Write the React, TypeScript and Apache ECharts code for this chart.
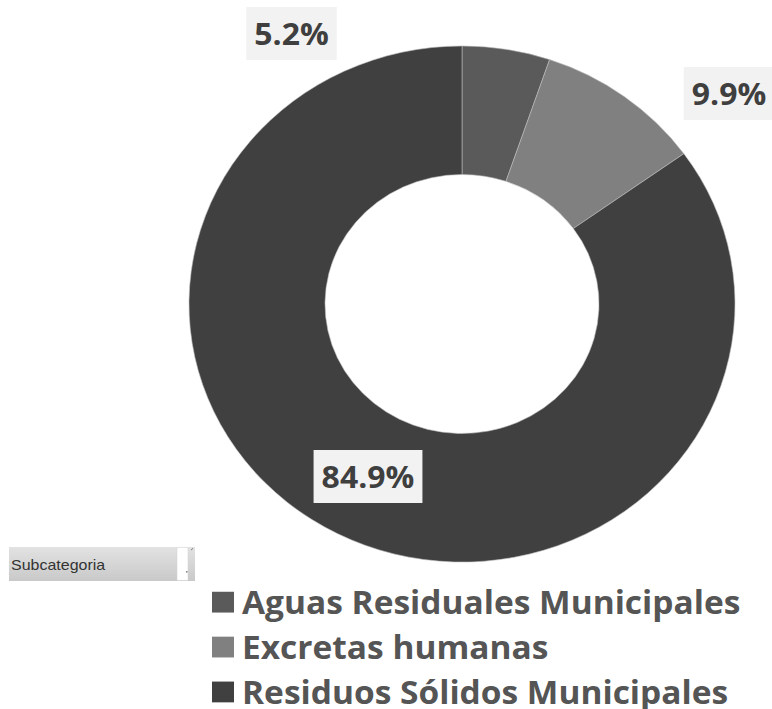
import React, { useEffect, useRef } from "react";
import * as echarts from "echarts";

const categories = ["Aguas Residuales Municipales", "Excretas humanas", "Residuos Sólidos Municipales"];
const shares = [5.2, 9.9, 84.9];
const sliceColors = ["#5a5a5a", "#808080", "#404040"];
const slicerTitle = "Subcategoria";

const SCALE_Y = 0.9453;
const W = 772;
const H = Math.round(709 / SCALE_Y);

export default function App() {
  const ref = useRef<HTMLDivElement>(null);
  useEffect(() => {
    if (!ref.current) return;
    const chart = echarts.init(ref.current, undefined, { renderer: "svg", width: W, height: H });
    const labelSpots = [
      { x: 291.5, y: 35.4 },
      { x: 729, y: 98.9 },
      { x: 368, y: 504 },
    ];
    const font = "'Open Sans', 'Noto Sans', sans-serif";
    chart.setOption({
      animation: false,
      backgroundColor: "#ffffff",
      color: sliceColors,
      legend: {
        orient: "vertical",
        left: 212,
        top: 620,
        padding: 0,
        icon: "rect",
        itemWidth: 22,
        itemHeight: 22,
        itemGap: 13.5,
        selectedMode: false,
        data: categories,
        itemStyle: { borderWidth: 0 },
        textStyle: {
          fontFamily: font,
          fontWeight: "bold",
          fontSize: 33.5,
          lineHeight: 33,
          color: "#555555",
          padding: [0, 0, 0, 3],
        },
      },
      graphic: [
        {
          type: "rect",
          shape: { x: 9, y: 578.7, width: 186, height: 36 },
          style: {
            fill: new echarts.graphic.LinearGradient(0, 0, 0, 1, [
              { offset: 0, color: "#e2e2e2" },
              { offset: 1, color: "#c9c9c9" },
            ]),
          },
        },
        {
          type: "rect",
          shape: { x: 177, y: 579, width: 11, height: 35 },
          style: { fill: "#ffffff", stroke: "#d0d0d0", lineWidth: 0.5 },
        },
        {
          type: "text",
          x: 11,
          y: 597,
          style: {
            text: slicerTitle,
            fontFamily: "'Liberation Sans', Arial, sans-serif",
            fontSize: 16,
            fill: "#333333",
            verticalAlign: "middle",
          },
        },
        {
          type: "line",
          shape: { x1: 186, y1: 605, x2: 187.5, y2: 605 },
          style: { stroke: "#333333", lineWidth: 1 },
        },
        {
          type: "line",
          shape: { x1: 191, y1: 582, x2: 193, y2: 580 },
          style: { stroke: "#777777", lineWidth: 1 },
        },
      ],
      series: [
        {
          type: "pie",
          center: [462, 321.6],
          radius: [137, 273],
          startAngle: 90,
          clockwise: true,
          avoidLabelOverlap: false,
          itemStyle: { borderColor: "#bfbfbf", borderWidth: 0.6 },
          data: categories.map((name, i) => ({ name, value: shares[i] })),
          label: {
            show: true,
            position: "outside",
            formatter: (p: any) => `${p.value.toFixed(1)}%`,
            fontFamily: font,
            fontWeight: "bold",
            fontSize: 32,
            lineHeight: 36,
            color: "#3f3f3f",
            backgroundColor: "#f2f2f2",
            padding: [10, 8, 10, 8],
          },
          labelLine: { show: false },
          labelLayout: (params: any) => {
            const s = labelSpots[params.dataIndex];
            return { x: s.x, y: s.y, align: "center", verticalAlign: "middle" };
          },
          emphasis: { disabled: true },
        },
      ],
    });
    return () => chart.dispose();
  }, []);

  return (
    <div style={{ position: "fixed", left: 0, top: 0, width: W, height: 709, overflow: "hidden", background: "#fff" }}>
      <div
        ref={ref}
        style={{ width: W, height: H, transform: `scaleY(${SCALE_Y})`, transformOrigin: "0 0" }}
      />
    </div>
  );
}
